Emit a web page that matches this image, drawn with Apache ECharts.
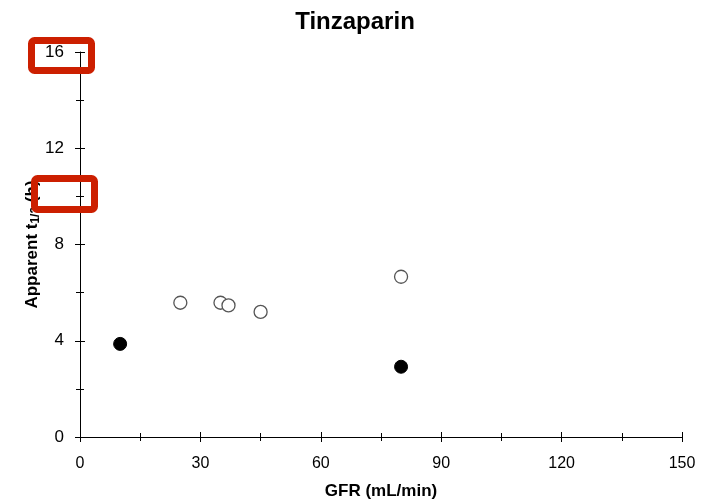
<!DOCTYPE html>
<html>
<head>
<meta charset="utf-8">
<script src="https://cdn.jsdelivr.net/npm/echarts@6/dist/echarts.min.js"></script>
<style>html,body{margin:0;padding:0;background:#fff}#c{width:710px;height:503px}</style>
</head>
<body>
<div id="c"></div>
<script>
var titleText = 'Tinzaparin';
var xName = 'GFR (mL/min)';
var openX = [25, 35, 37, 45, 80];
var openY = [5.58, 5.58, 5.47, 5.20, 6.66];
var filledX = [10, 80];
var filledY = [3.87, 2.92];
var xMin = 0, xMax = 150, xInterval = 30;
var yMin = 0, yMax = 16, yInterval = 4;

function pairs(xs, ys){ return xs.map(function(v,i){return [v, ys[i]];}); }

var font = 'Liberation Sans, Arial, sans-serif';
var axisColor = '#000';

// kind: 'main' (line+labels), 'major' (crossing major ticks), 'minor' (crossing minor ticks)
function axisCfg(dim, kind){
  var isX = dim === 'x';
  var cfg = {
    type:'value',
    min: isX ? xMin : yMin, max: isX ? xMax : yMax,
    interval: isX ? xInterval : yInterval,
    position: isX ? 'bottom' : 'left',
    offset: kind === 'main' ? 0 : (kind === 'major' ? -5 : -4),
    axisLine:{show:true, onZero:false, lineStyle:{color:axisColor, width:1, opacity: kind === 'main' ? 1 : 0}},
    axisTick:{show: kind === 'major', inside:false, length:10, lineStyle:{color:axisColor, width:1}},
    minorTick:{show: kind === 'minor', splitNumber:2, length:8, lineStyle:{color:axisColor, width:1}},
    splitLine:{show:false}, minorSplitLine:{show:false},
    axisLabel:{show: kind === 'main', margin: isX ? 19 : 16, color:'#000', fontFamily:font, fontSize: isX ? 16 : 17}
  };
  if (kind === 'main') {
    cfg.nameMoveOverlap = false;
    if (isX) {
      cfg.name = xName; cfg.nameLocation = 'middle'; cfg.nameGap = 46;
      cfg.nameTextStyle = {fontFamily:font, fontSize:17, fontWeight:'bold', color:'#000'};
    } else {
      cfg.name = '{a|Apparent t}{s|1/2}{a| (h)}';
      cfg.nameLocation = 'middle'; cfg.nameGap = 38; cfg.nameRotate = 90;
      cfg.nameTextStyle = {
        color:'#000',
        rich:{
          a:{fontFamily:font, fontSize:17, fontWeight:'bold', color:'#000', lineHeight:20, verticalAlign:'middle'},
          s:{fontFamily:font, fontSize:12, fontWeight:'bold', color:'#000', lineHeight:20, padding:[8,0,0,0], verticalAlign:'middle'}
        }
      };
    }
  }
  return cfg;
}

var chart = echarts.init(document.getElementById('c'), null, {renderer:'canvas'});
chart.setOption({
  backgroundColor:'#fff',
  animation:false,
  title:{text:titleText, left:'center', top:5,
    textStyle:{fontFamily:font, fontSize:24, fontWeight:'bold', color:'#000'}},
  grid:{left:80, right:28, top:52, bottom:66, containLabel:false, outerBoundsMode:'none'},
  xAxis:[axisCfg('x','main'), axisCfg('x','major'), axisCfg('x','minor')],
  yAxis:[axisCfg('y','main'), axisCfg('y','major'), axisCfg('y','minor')],
  series:[
    {type:'scatter', data:pairs(openX, openY), symbol:'circle', symbolSize:13,
     itemStyle:{color:'#fff', borderColor:'#555', borderWidth:1.3, opacity:1}},
    {type:'scatter', data:pairs(filledX, filledY), symbol:'circle', symbolSize:13,
     itemStyle:{color:'#000', borderColor:'#000', borderWidth:1, opacity:1}}
  ],
  graphic:[
    {type:'rect', z:100, shape:{x:31.5, y:40.5, width:60, height:30, r:3},
     style:{fill:'none', stroke:'#cc1f00', lineWidth:7}},
    {type:'rect', z:100, shape:{x:34.5, y:178.5, width:60, height:31, r:3},
     style:{fill:'none', stroke:'#cc1f00', lineWidth:7}}
  ]
});
</script>
</body>
</html>
